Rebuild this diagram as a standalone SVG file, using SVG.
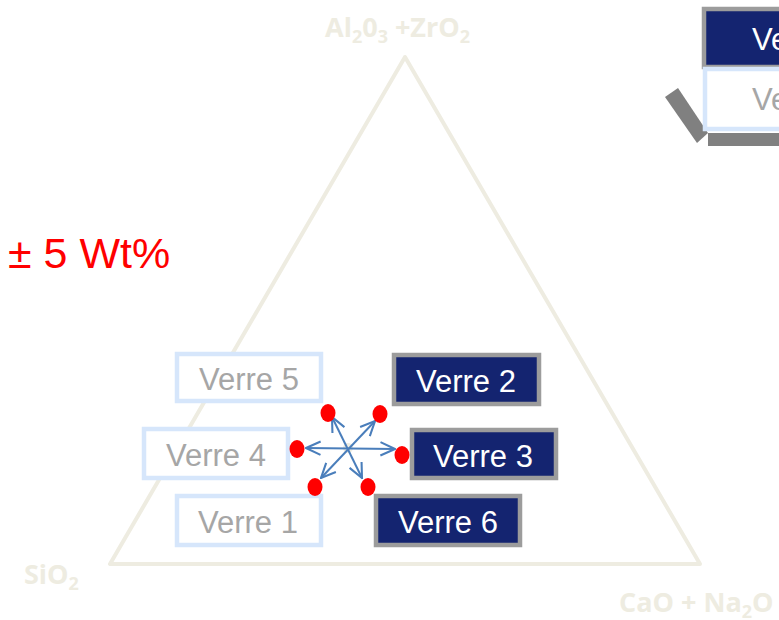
<svg xmlns="http://www.w3.org/2000/svg" width="779" height="620" viewBox="0 0 779 620">
  <defs>
    <style>
      .axis { fill: none; stroke: #eeece1; stroke-width: 4; stroke-linejoin: round; }
      .axis-label { font-family: "Open Sans", "Liberation Sans", sans-serif; font-weight: bold; font-size: 27px; fill: #eeece1; }
      .sub { font-size: 18px; }
      .box-light rect { fill: #ffffff; stroke: #d6e6fb; stroke-width: 4.5; }
      .box-light text { fill: #a6a6a6; }
      .box-dark rect { fill: #142470; stroke: #9c9c9c; stroke-width: 4.5; }
      .box-dark text { fill: #ffffff; }
      .label { font-family: "Liberation Sans", Arial, sans-serif; font-size: 31px; text-anchor: middle; }
      .vec { stroke: #4a7ebb; stroke-width: 2; fill: none; marker-start: url(#head); marker-end: url(#head); }
      .pt { fill: #ff0000; }
      .bracket { fill: #808080; }
    </style>
    <marker id="head" viewBox="0 0 14 14" refX="13" refY="7" markerWidth="17" markerHeight="17" markerUnits="userSpaceOnUse" orient="auto-start-reverse">
      <path d="M1,1.5 L13,7 L1,12.5" fill="none" stroke="#4a7ebb" stroke-width="1.7"/>
    </marker>
  </defs>

  <!-- ternary frame -->
  <g id="ternary">
    <polygon class="axis" points="405,57 110,564 700,564"/>
    <text class="axis-label" x="325" y="37">Al<tspan class="sub" dy="6">2</tspan><tspan dy="-6">0</tspan><tspan class="sub" dy="6">3</tspan><tspan dy="-6"> +ZrO</tspan><tspan class="sub" dy="6">2</tspan></text>
    <text class="axis-label" x="24" y="584">SiO<tspan class="sub" dy="6">2</tspan></text>
    <text class="axis-label" x="619" y="612">CaO + Na<tspan class="sub" dy="6">2</tspan><tspan dy="-6">O</tspan></text>
  </g>

  <!-- tolerance note -->
  <text x="8" y="268" font-family="Liberation Sans, Arial, sans-serif" font-size="43" fill="#ff0000">± 5 Wt%</text>

  <!-- legend, partly off the right edge -->
  <g id="legend">
    <polygon class="bracket" points="678,88 665,97 697,143 708,133"/>
    <rect class="bracket" x="708" y="133" width="80" height="13"/>
    <g class="box-dark">
      <rect x="704" y="9" width="100" height="58"/>
      <text class="label" x="752" y="50" style="text-anchor:start">Ve</text>
    </g>
    <g class="box-light">
      <rect x="705" y="69" width="100" height="60"/>
      <text class="label" x="752" y="110" style="text-anchor:start">Ve</text>
    </g>
  </g>

  <!-- centre composition point -->
  <circle cx="348" cy="448" r="5" fill="#eeece1"/>

  <!-- glass nodes -->
  <g id="verre5" class="box-light">
    <rect x="177" y="354" width="144" height="47"/>
    <text class="label" x="249" y="390">Verre 5</text>
  </g>
  <g id="verre4" class="box-light">
    <rect x="144" y="429" width="144" height="49"/>
    <text class="label" x="216" y="466">Verre 4</text>
  </g>
  <g id="verre1" class="box-light">
    <rect x="177" y="496" width="144" height="49"/>
    <text class="label" x="248" y="533">Verre 1</text>
  </g>
  <g id="verre2" class="box-dark">
    <rect x="394" y="355" width="145" height="49"/>
    <text class="label" x="466" y="392">Verre 2</text>
  </g>
  <g id="verre3" class="box-dark">
    <rect x="412" y="430" width="144" height="48"/>
    <text class="label" x="483" y="467">Verre 3</text>
  </g>
  <g id="verre6" class="box-dark">
    <rect x="376" y="496" width="144" height="49"/>
    <text class="label" x="448" y="533">Verre 6</text>
  </g>

  <!-- variation vectors -->
  <g id="connectors">
    <line class="vec" x1="306" y1="448" x2="395" y2="449"/>
    <line class="vec" x1="362" y1="478" x2="332" y2="417"/>
    <line class="vec" x1="321" y1="478" x2="375" y2="421"/>
  </g>

  <!-- perturbed compositions -->
  <g id="points">
    <ellipse class="pt" cx="328" cy="413" rx="7.5" ry="9"/>
    <ellipse class="pt" cx="380" cy="414" rx="7.5" ry="9"/>
    <ellipse class="pt" cx="297" cy="449" rx="7.5" ry="9"/>
    <ellipse class="pt" cx="402" cy="455" rx="7.5" ry="9"/>
    <ellipse class="pt" cx="315" cy="487" rx="7.5" ry="9"/>
    <ellipse class="pt" cx="368" cy="487" rx="7.5" ry="9"/>
  </g>
</svg>
